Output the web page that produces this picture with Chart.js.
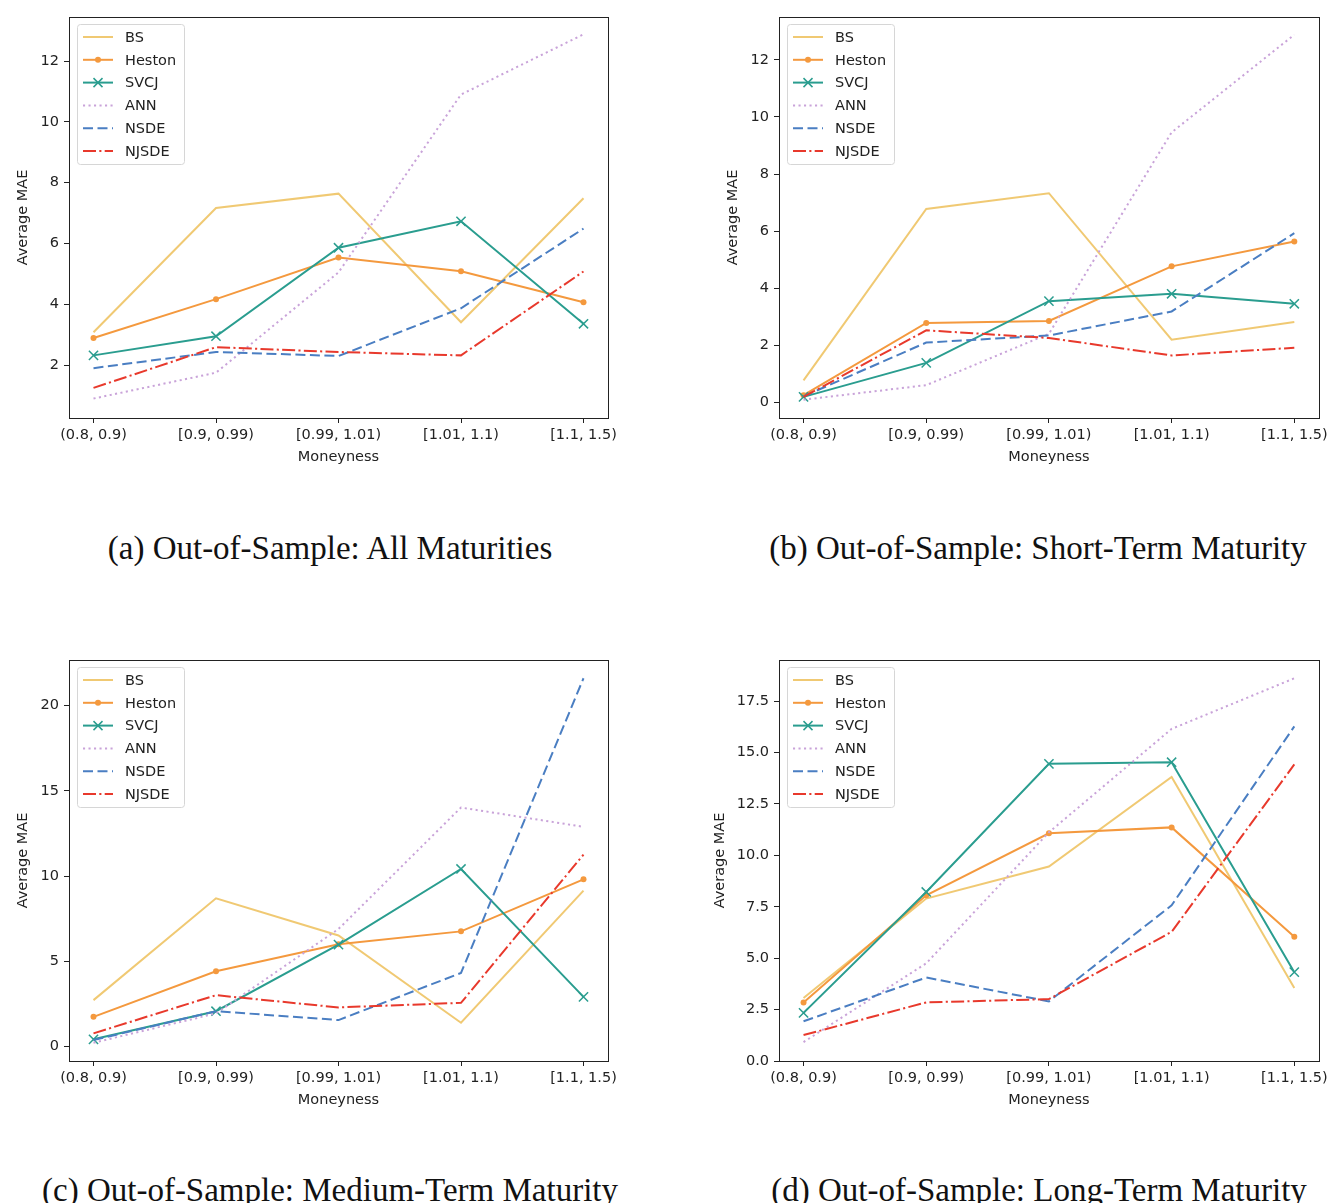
<!DOCTYPE html>
<html>
<head>
<meta charset="utf-8">
<script src="https://cdn.jsdelivr.net/npm/chart.js@4.4.1/dist/chart.umd.min.js"></script>
<style>
  body { margin: 0; background: #fff; width: 1332px; height: 1203px; overflow: hidden; position: relative; }
  .panel { position: absolute; }
  .caption { position: absolute; font-family: "Liberation Serif", serif; font-size: 33px; white-space: nowrap; color: #111; transform: translate(-50%, -50%); }
</style>
</head>
<body>
<div class="panel" style="left:0;top:0"><canvas id="chartA" width="640" height="475"></canvas></div>
<div class="panel" style="left:710px;top:0"><canvas id="chartB" width="622" height="475"></canvas></div>
<div class="panel" style="left:0;top:643px"><canvas id="chartC" width="640" height="475"></canvas></div>
<div class="panel" style="left:710px;top:643px"><canvas id="chartD" width="622" height="475"></canvas></div>

<div class="caption" style="left:330px;top:548px">(a) Out-of-Sample: All Maturities</div>
<div class="caption" style="left:1038px;top:548px">(b) Out-of-Sample: Short-Term Maturity</div>
<div class="caption" style="left:330px;top:1190px">(c) Out-of-Sample: Medium-Term Maturity</div>
<div class="caption" style="left:1039px;top:1190px">(d) Out-of-Sample: Long-Term Maturity</div>

<script>
// moneyness buckets and model names
const categories = ["(0.8, 0.9)", "[0.9, 0.99)", "[0.99, 1.01)", "[1.01, 1.1)", "[1.1, 1.5)"];
const models = ["BS", "Heston", "SVCJ", "ANN", "NSDE", "NJSDE"];

// (a) all maturities
const allBS     = [3.08, 7.17, 7.64, 3.41, 7.49];
const allHeston = [2.89, 4.17, 5.54, 5.09, 4.07];
const allSVCJ   = [2.32, 2.95, 5.86, 6.73, 3.36];
const allANN    = [0.90, 1.75, 5.05, 10.90, 12.88];
const allNSDE   = [1.90, 2.43, 2.30, 3.87, 6.49];
const allNJSDE  = [1.25, 2.59, 2.43, 2.32, 5.08];

// (b) short-term
const shortBS     = [0.78, 6.78, 7.33, 2.20, 2.82];
const shortHeston = [0.26, 2.79, 2.86, 4.77, 5.64];
const shortSVCJ   = [0.20, 1.39, 3.55, 3.81, 3.46];
const shortANN    = [0.10, 0.61, 2.41, 9.46, 12.88];
const shortNSDE   = [0.22, 2.10, 2.35, 3.19, 5.93];
const shortNJSDE  = [0.20, 2.53, 2.26, 1.65, 1.92];

// (c) medium-term
const medBS     = [2.73, 8.70, 6.52, 1.40, 9.15];
const medHeston = [1.75, 4.42, 6.00, 6.76, 9.81];
const medSVCJ   = [0.43, 2.08, 5.98, 10.42, 2.92];
const medANN    = [0.23, 1.95, 6.90, 14.02, 12.89];
const medNSDE   = [0.39, 2.08, 1.56, 4.32, 21.60];
const medNJSDE  = [0.78, 3.02, 2.30, 2.57, 11.26];

// (d) long-term
const longBS     = [3.06, 7.90, 9.46, 13.81, 3.55];
const longHeston = [2.85, 8.06, 11.07, 11.36, 6.04];
const longSVCJ   = [2.34, 8.22, 14.45, 14.53, 4.32];
const longANN    = [0.92, 4.75, 11.12, 16.15, 18.61];
const longNSDE   = [1.93, 4.06, 2.90, 7.57, 16.27];
const longNJSDE  = [1.26, 2.85, 3.01, 6.28, 14.42];

// y tick labels per panel
const ticksA = [2, 4, 6, 8, 10, 12];
const ticksB = [0, 2, 4, 6, 8, 10, 12];
const ticksC = [0, 5, 10, 15, 20];
const ticksD = [0, 2.5, 5, 7.5, 10, 12.5, 15, 17.5];

const styles = [
    { color: "rgba(238,195,100,0.9)", dash: [], point: false },
    { color: "#f4993e", dash: [], point: "circle" },
    { color: "#2a9d8f", dash: [], point: "crossRot" },
    { color: "#c9a3d9", dash: [2.1, 3.4], point: false },
    { color: "#4a7ec2", dash: [10, 4.5], point: false },
    { color: "#e8392c", dash: [13, 3.3, 2.1, 3.3], point: false },
];
const FONT = "DejaVu Sans";
const INK = "#222";

// box around the plot, like matplotlib spines
const framePlugin = {
    id: "frame",
    afterDatasetsDraw(chart) {
        const a = chart.chartArea, ctx = chart.ctx;
        ctx.save();
        ctx.strokeStyle = INK;
        ctx.lineWidth = 1;
        ctx.strokeRect(Math.round(a.left) + 0.5, Math.round(a.top) + 0.5,
            Math.round(a.right - a.left), Math.round(a.bottom - a.top));
        ctx.restore();
    }
};

function drawMarker(ctx, style, x, y, color) {
    if (style === "circle") {
        ctx.fillStyle = color;
        ctx.beginPath();
        ctx.arc(x, y, 3, 0, Math.PI * 2);
        ctx.fill();
    } else if (style === "crossRot") {
        const r = 4.5;
        ctx.lineWidth = 1.5;
        ctx.beginPath();
        ctx.moveTo(x - r, y - r); ctx.lineTo(x + r, y + r);
        ctx.moveTo(x - r, y + r); ctx.lineTo(x + r, y - r);
        ctx.stroke();
    }
}

// legend in the upper left corner, matplotlib style
const legendPlugin = {
    id: "mplLegend",
    afterDraw(chart) {
        const ctx = chart.ctx, a = chart.chartArea;
        const x0 = a.left + 8, y0 = a.top + 7, w = 107, h = 140;
        ctx.save();
        ctx.fillStyle = "rgba(255,255,255,0.85)";
        ctx.strokeStyle = "#d6d6d6";
        ctx.lineWidth = 1;
        ctx.beginPath();
        ctx.roundRect(x0 + 0.5, y0 + 0.5, w, h, 3);
        ctx.fill();
        ctx.stroke();
        models.forEach((name, i) => {
            const y = y0 + 13 + i * 22.8;
            const st = styles[i];
            ctx.strokeStyle = st.color;
            ctx.lineWidth = 2;
            ctx.setLineDash(st.dash);
            ctx.beginPath();
            ctx.moveTo(x0 + 6, y);
            ctx.lineTo(x0 + 36, y);
            ctx.stroke();
            ctx.setLineDash([]);
            drawMarker(ctx, st.point, x0 + 21, y, st.color);
            ctx.fillStyle = INK;
            ctx.font = "14.5px '" + FONT + "'";
            ctx.textBaseline = "middle";
            ctx.fillText(name, x0 + 48, y + 1);
        });
        ctx.restore();
    }
};

function makeChart(id, series, yMin, yMax, yTicks, decimals, rightPad, yTitlePad) {
    const datasets = series.map((vals, i) => ({
        label: models[i],
        data: vals.map((v, k) => ({ x: k, y: v })),
        borderColor: styles[i].color,
        backgroundColor: styles[i].color,
        borderWidth: 2,
        borderDash: styles[i].dash,
        tension: 0,
        pointStyle: styles[i].point || "circle",
        pointRadius: styles[i].point === "crossRot" ? 6.5 : (styles[i].point ? 3 : 0),
        pointBorderWidth: styles[i].point === "crossRot" ? 1.5 : 0,
        order: 6 - i,
        clip: false,
    }));

    new Chart(document.getElementById(id), {
        type: "line",
        data: { datasets: datasets },
        options: {
            responsive: false,
            animation: false,
            events: [],
            layout: { padding: { top: 17, right: rightPad, left: 0, bottom: 0 } },
            plugins: { legend: { display: false }, tooltip: { enabled: false } },
            scales: {
                x: {
                    type: "linear",
                    min: -0.2,
                    max: 4.2,
                    afterBuildTicks: (s) => { s.ticks = categories.map((c, i) => ({ value: i })); },
                    afterFit: (s) => { s.height = 57; },
                    ticks: {
                        callback: (v) => categories[v],
                        autoSkip: false,
                        maxRotation: 0,
                        padding: 4,
                        color: INK,
                        font: { family: FONT, size: 14.5 },
                    },
                    grid: { drawOnChartArea: false, tickLength: 5, color: INK },
                    border: { color: INK },
                    title: {
                        display: true,
                        text: "Moneyness",
                        color: INK,
                        font: { family: FONT, size: 14.5 },
                        padding: { top: 0, bottom: 9 },
                    },
                },
                y: {
                    min: yMin,
                    max: yMax,
                    afterBuildTicks: (s) => { s.ticks = yTicks.map((v) => ({ value: v })); },
                    afterFit: (s) => { s.width = 69; },
                    ticks: {
                        callback: (v) => v.toFixed(decimals),
                        padding: 5,
                        color: INK,
                        font: { family: FONT, size: 14.5 },
                    },
                    grid: { drawOnChartArea: false, tickLength: 5, color: INK },
                    border: { color: INK },
                    title: {
                        display: true,
                        text: "Average MAE",
                        color: INK,
                        font: { family: FONT, size: 14.5 },
                        padding: { top: yTitlePad, bottom: 0 },
                    },
                },
            },
        },
        plugins: [framePlugin, legendPlugin],
    });
}

makeChart("chartA", [allBS, allHeston, allSVCJ, allANN, allNSDE, allNJSDE], 0.26, 13.45, ticksA, 0, 32, 15);
makeChart("chartB", [shortBS, shortHeston, shortSVCJ, shortANN, shortNSDE, shortNJSDE], -0.54, 13.5, ticksB, 0, 8, 15);
makeChart("chartC", [medBS, medHeston, medSVCJ, medANN, medNSDE, medNJSDE], -0.84, 22.67, ticksC, 0, 32, 15);
makeChart("chartD", [longBS, longHeston, longSVCJ, longANN, longNSDE, longNJSDE], 0, 19.5, ticksD, 1, 8, 2);
</script>
</body>
</html>
